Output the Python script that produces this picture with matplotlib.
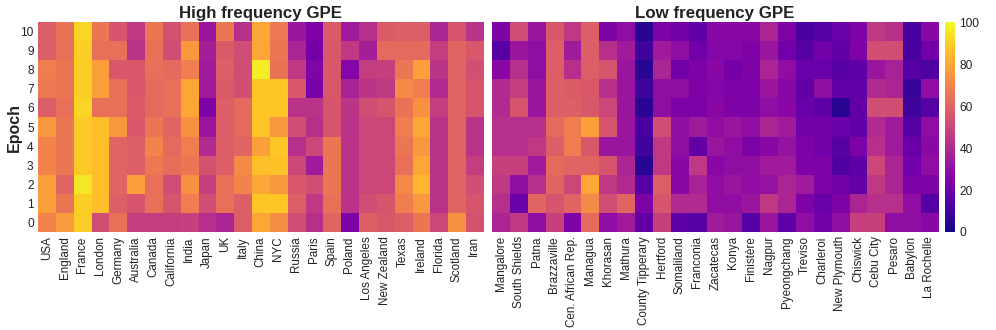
import numpy as np
import matplotlib
matplotlib.use('Agg')
import matplotlib.pyplot as plt

plt.rcParams['font.family'] = ['Liberation Sans', 'DejaVu Sans']

epochs = list(range(10, -1, -1))  # top row first

high_names = ['USA', 'England', 'France', 'London', 'Germany', 'Australia', 'Canada',
              'California', 'India', 'Japan', 'UK', 'Italy', 'China', 'NYC', 'Russia',
              'Paris', 'Spain', 'Poland', 'Los Angeles', 'New Zealand', 'Texas',
              'Ireland', 'Florida', 'Scotland', 'Iran']
low_names = ['Mangalore', 'South Shields', 'Patna', 'Brazzaville', 'Cen. African Rep.',
             'Managua', 'Khorasan', 'Mathura', 'County Tipperary', 'Hertford',
             'Somaliland', 'Franconia', 'Zacatecas', 'Konya', 'Finistère', 'Nagpur',
             'Pyeongchang', 'Treviso', 'Charleroi', 'New Plymouth', 'Chiswick',
             'Cebu City', 'Pesaro', 'Babylon', 'La Rochelle']

# rows: epoch 10 down to epoch 0
high_freq = [
    [58, 65, 92, 66, 55, 45, 66, 54, 64, 33, 66, 42, 80, 67, 33, 25, 57, 35, 42, 57, 58, 58, 38, 55, 43],
    [58, 64, 90, 64, 64, 43, 64, 52, 76, 36, 57, 52, 80, 66, 38, 23, 56, 45, 36, 62, 62, 62, 47, 60, 56],
    [68, 66, 90, 78, 56, 56, 64, 62, 68, 35, 58, 52, 97, 65, 45, 26, 56, 27, 47, 48, 66, 78, 44, 60, 53],
    [67, 66, 90, 78, 64, 56, 62, 64, 80, 35, 57, 53, 88, 88, 56, 24, 56, 37, 44, 45, 72, 68, 40, 60, 55],
    [58, 64, 92, 64, 64, 57, 62, 64, 80, 25, 58, 62, 88, 88, 43, 43, 55, 44, 52, 55, 65, 74, 47, 60, 55],
    [76, 66, 89, 86, 76, 56, 66, 60, 74, 33, 58, 62, 88, 76, 52, 42, 55, 43, 50, 50, 68, 80, 43, 60, 43],
    [70, 66, 89, 86, 60, 58, 70, 62, 68, 40, 58, 60, 78, 88, 42, 50, 66, 43, 50, 50, 66, 76, 43, 60, 43],
    [70, 66, 89, 86, 60, 58, 67, 63, 66, 54, 58, 72, 86, 87, 50, 35, 66, 43, 50, 50, 64, 80, 43, 60, 47],
    [78, 60, 96, 86, 60, 78, 64, 52, 74, 47, 64, 70, 80, 76, 56, 52, 66, 43, 50, 50, 72, 84, 43, 60, 52],
    [78, 66, 90, 86, 58, 55, 64, 55, 68, 52, 64, 58, 88, 88, 58, 45, 64, 43, 52, 55, 68, 76, 43, 60, 55],
    [70, 77, 90, 52, 64, 47, 47, 47, 48, 42, 38, 58, 80, 73, 52, 42, 60, 25, 58, 56, 58, 66, 50, 74, 54],
]

low_freq = [
    [25, 52, 33, 56, 45, 58, 25, 30, 5, 25, 22, 17, 28, 28, 28, 38, 25, 12, 15, 20, 25, 45, 42, 12, 28],
    [15, 33, 30, 58, 35, 58, 42, 35, 10, 35, 30, 22, 27, 27, 25, 33, 22, 15, 22, 18, 25, 53, 52, 12, 22],
    [28, 42, 30, 58, 42, 58, 55, 33, 5, 38, 22, 25, 28, 23, 25, 38, 30, 20, 20, 15, 17, 33, 37, 15, 13],
    [40, 47, 33, 58, 57, 56, 42, 33, 10, 30, 30, 25, 27, 25, 25, 33, 28, 18, 30, 18, 18, 40, 38, 8, 30],
    [40, 55, 33, 58, 58, 56, 50, 33, 5, 30, 25, 25, 28, 25, 25, 30, 28, 20, 17, 5, 18, 52, 52, 10, 15],
    [42, 42, 42, 62, 68, 78, 55, 33, 12, 52, 30, 35, 30, 33, 30, 38, 35, 22, 22, 20, 18, 40, 35, 15, 30],
    [42, 42, 45, 58, 68, 56, 33, 33, 10, 45, 30, 18, 33, 30, 25, 28, 32, 25, 22, 15, 25, 42, 35, 20, 28],
    [48, 48, 35, 62, 60, 60, 55, 38, 5, 45, 28, 45, 28, 30, 30, 35, 35, 25, 25, 14, 17, 50, 38, 22, 30],
    [45, 30, 42, 60, 50, 80, 45, 40, 15, 58, 28, 37, 30, 33, 30, 32, 38, 35, 25, 22, 18, 45, 38, 25, 25],
    [42, 20, 60, 55, 60, 72, 52, 60, 25, 55, 40, 40, 30, 30, 33, 45, 38, 25, 20, 25, 38, 42, 42, 30, 15],
    [38, 45, 30, 48, 25, 62, 30, 35, 18, 48, 17, 15, 35, 33, 15, 33, 17, 30, 22, 30, 48, 48, 30, 30, 28],
]

fig = plt.figure(figsize=(9.96, 3.3), dpi=100)
ax1 = fig.add_axes([0.038, 0.297, 0.447, 0.636])
ax2 = fig.add_axes([0.494, 0.297, 0.448, 0.636])
cax = fig.add_axes([0.9485, 0.297, 0.01, 0.636])

panels = [(ax1, high_freq, high_names, 'High frequency GPE'),
          (ax2, low_freq, low_names, 'Low frequency GPE')]
for ax, vals, names, title in panels:
    im = ax.imshow(np.array(vals), cmap='plasma', vmin=0, vmax=100, aspect='auto',
                   interpolation='nearest')
    ax.set_xticks(range(len(names)))
    ax.set_xticklabels(names, rotation=90, fontsize=8.4, color='#222222')
    ax.set_yticks(range(len(epochs)))
    ax.set_yticklabels(epochs, fontsize=8.6, color='#222222')
    ax.tick_params(length=0, pad=3)
    ax.set_title(title, fontsize=12.2, fontweight='bold', pad=3, color='#222222')
    for s in ax.spines.values():
        s.set_visible(False)

ax2.set_yticks([])
ax1.set_ylabel('Epoch', fontsize=11.5, fontweight='bold', color='#222222')
ax1.yaxis.set_label_coords(-0.037, 0.5)

cb = fig.colorbar(im, cax=cax)
cb.set_ticks([0, 20, 40, 60, 80, 100])
cb.ax.tick_params(labelsize=8.6, length=0, colors='#222222')
cb.outline.set_visible(False)

fig.savefig('out.png', dpi=100)
